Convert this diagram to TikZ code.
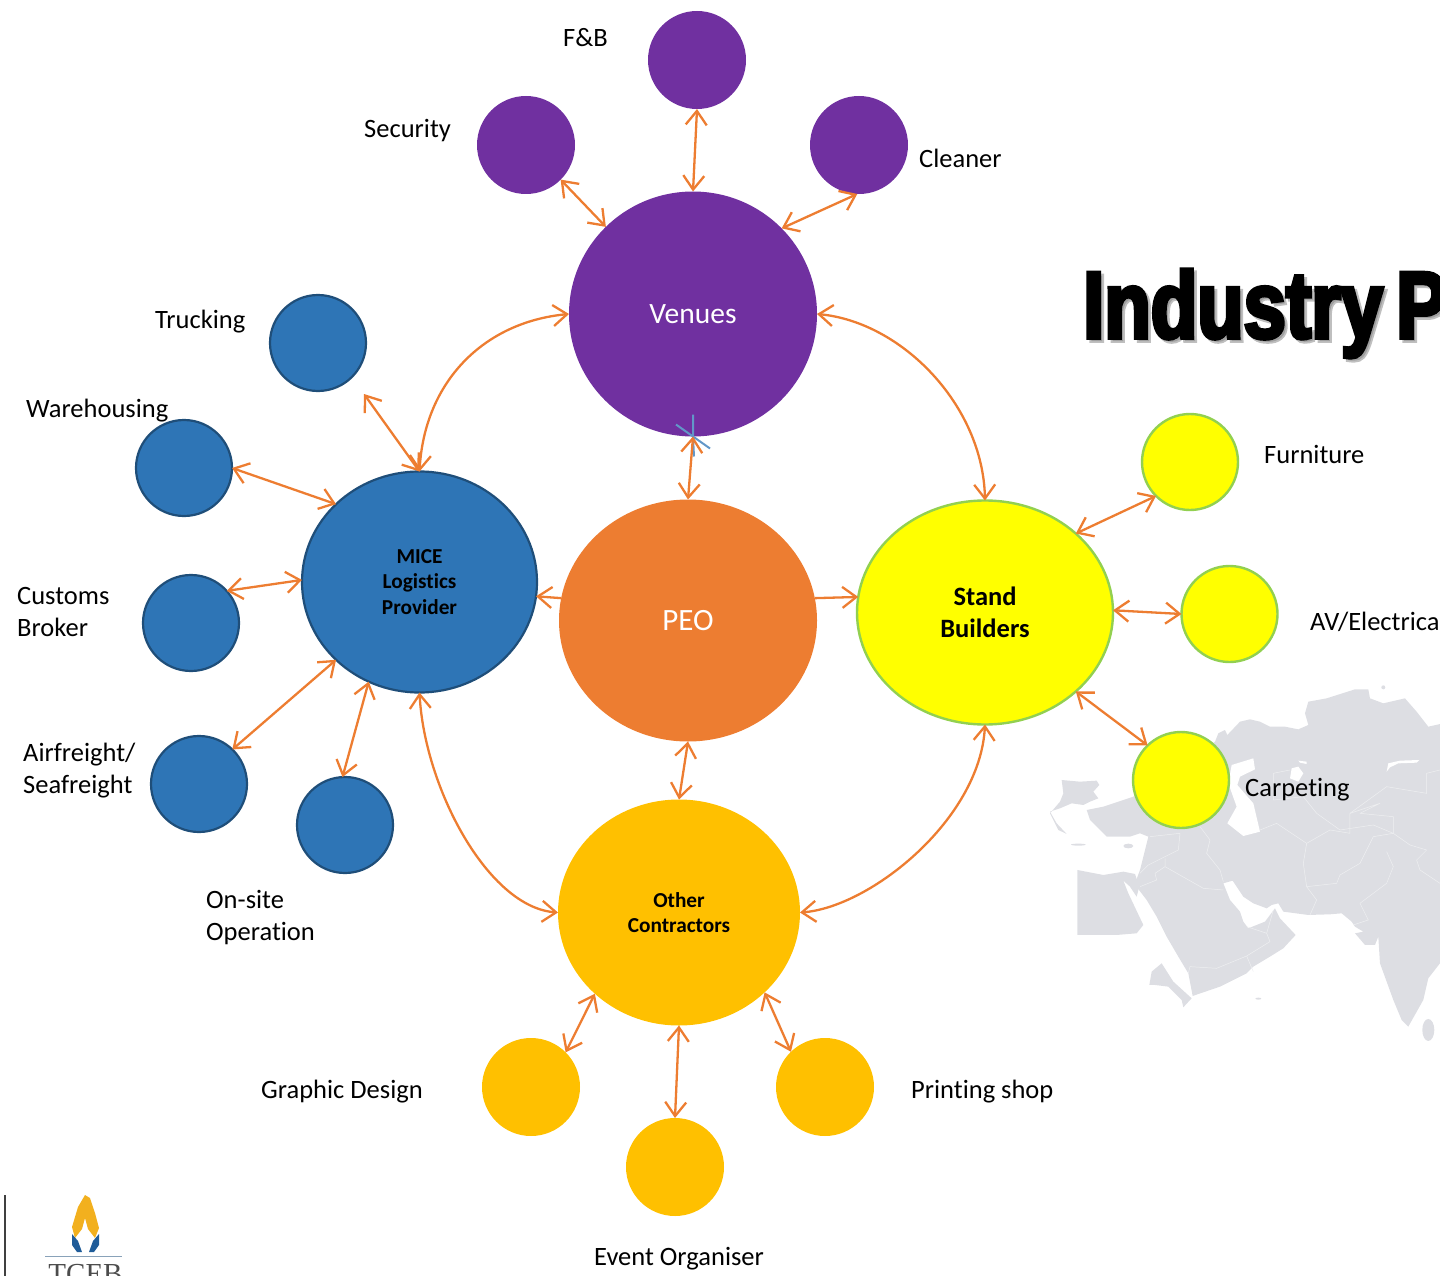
\documentclass[tikz,border=0pt]{standalone}
\usepackage{fontspec}
\setmainfont{Carlito}[Ligatures=NoCommon]
\newfontfamily\titlefont[FakeBold=4,FakeStretch=0.8]{Liberation Sans Bold}
\newfontfamily\logofont{Liberation Serif}
\usetikzlibrary{shapes.geometric,arrows.meta}
\definecolor{arrowc}{HTML}{ED7D31}
\definecolor{purplec}{HTML}{7030A0}
\definecolor{bluec}{HTML}{2E75B6}
\definecolor{blueline}{HTML}{1F4E79}
\definecolor{goldc}{HTML}{FFC000}
\definecolor{yellowc}{RGB}{255,255,0}
\definecolor{greenline}{HTML}{92D050}
\definecolor{mapc}{HTML}{DDDEE3}
\definecolor{mapline}{HTML}{EEEFF1}
\definecolor{logoblue}{HTML}{1F5C99}
\definecolor{logogold}{HTML}{F2B01E}
\tikzset{
  x=1pt,y=-1pt,
  hub/.style={ellipse,inner sep=0pt,outer sep=0pt,align=center},
  sat/.style={circle,inner sep=0pt,outer sep=0pt,minimum size=#1},
  purplenode/.style={fill=purplec},
  bluenode/.style={fill=bluec,draw=blueline,line width=2.2pt},
  yellownode/.style={fill=yellowc,draw=greenline,line width=2.4pt},
  goldnode/.style={fill=goldc},
  lab/.style={inner sep=0pt,align=left,font=\fontsize{26.5}{32}\selectfont,text=black},
  link/.style={draw=arrowc,line width=2.3pt,{Straight Barb[length=14pt,width=21pt,line width=2.3pt]}-{Straight Barb[length=14pt,width=21pt,line width=2.3pt]}},
  onelink/.style={draw=arrowc,line width=2.3pt,-{Straight Barb[length=14pt,width=21pt,line width=2.3pt]}},
  mapborder/.style={draw=mapline,line width=0.5pt,line join=round},
}
\begin{document}
\begin{tikzpicture}
\useasboundingbox (0,0) rectangle (1440,1276);
\clip (0,0) rectangle (1440,1276);
% map
\begin{scope}[shift={(1040,670)},x=0.3333pt,y=-0.3333pt]
\fill[mapc] (525,215)--(535,190)--(555,180)--(562,195)--(600,155)--(630,148)--(660,155)--(690,170)--(735,170)--(775,178)--(805,165)--(795,130)--(805,95)--(860,85)--(945,58)--(985,58)--(990,85)--(1030,100)--(1095,85)--(1130,125)--(1165,170)--(1210,160)--(1210,880)--(1200,880)--(1165,925)--(1150,990)--(1105,1070)--(1085,1050)--(1060,990)--(1020,880)--(1015,800)--(1005,825)--(975,825)--(945,790)--(970,785)--(945,770)--(935,755)--(905,730)--(870,733)--(805,735)--(730,725)--(715,700)--(695,705)--(680,715)--(640,700)--(610,680)--(590,650)--(578,632)--(550,640)--(570,690)--(600,725)--(610,755)--(625,775)--(675,755)--(705,715)--(720,745)--(767,795)--(730,835)--(690,860)--(640,890)--(620,910)--(540,950)--(458,978)--(445,910)--(415,860)--(380,800)--(350,740)--(320,690)--(297,660)--(285,640)--(300,600)--(325,500)--(300,490)--(270,500)--(200,500)--(150,450)--(140,420)--(190,410)--(280,380)--(400,300)--cycle;
\fill[mapc] (112,600)--(190,615)--(250,605)--(285,612)--(298,650)--(290,680)--(270,650)--(250,632)--(265,670)--(310,765)--(290,790)--(230,795)--(112,795)--cycle;
\fill[mapc] (65,330)--(120,335)--(170,332)--(178,345)--(160,365)--(175,385)--(150,395)--(130,405)--(95,400)--(60,415)--(30,425)--(50,460)--(80,492)--(55,480)--(40,450)--(30,430)--(60,395)--(70,370)--cycle;
\fill[mapc] (328,945)--(335,905)--(365,880)--(400,935)--(455,985)--(430,1012)--(425,990)--(385,950)--(345,945)--cycle;
\fill[mapc] (1165,1080) ellipse [x radius=18,y radius=33];
\fill[mapc] (265,528) ellipse [x radius=15,y radius=7];
\fill[mapc] (115,524) ellipse [x radius=22,y radius=3];
\fill[mapc] (655,986) ellipse [x radius=9,y radius=3];
\fill[mapc] (1030,52) circle [radius=6];
% Caspian and lakes
\fill[white] (575,285)--(640,265)--(645,298)--(600,320)--(592,345)--(640,400)--(660,485)--(610,498)--(562,460)--(590,410)--(565,340)--cycle;
\fill[white] (755,295)--(775,290)--(790,310)--(775,335)--(750,325)--cycle;
\fill[white] (1040,305)--(1045,280)--(1080,272)--(1138,270)--(1130,278)--(1075,280)--(1050,292)--cycle;
\fill[white] (775,272)--(800,275)--(800,282)--(780,278)--cycle;
\draw[mapborder] (700,310)--(750,300) (700,310)--(700,390)--(790,380)--(830,430)--(900,480)--(1000,465)--(1060,490)--(1110,525)--(1160,540)--(1130,570)--(1140,600)--(1200,640);
\draw[mapborder] (660,480)--(710,460)--(800,520)--(790,580)--(800,650)--(830,690)--(810,735);
\draw[mapborder] (800,650)--(890,640)--(900,615)--(960,580)--(990,520)--(1000,500)--(1060,490);
\draw[mapborder] (1040,545)--(1060,590)--(1040,640)--(960,700)--(985,750)--(940,765);
\draw[mapborder] (800,520)--(870,480)--(930,490)--(930,430)--(1040,350)--(1160,370)--(1160,310)--(1200,300);
\draw[mapborder] (930,430)--(1020,400)--(960,430)--(1060,440)--(1060,490);
\draw[mapborder] (480,470)--(510,510)--(500,550)--(540,600)--(550,635);
\draw[mapborder] (330,500)--(420,490)--(415,540)--(325,585)--(300,610);
\draw[mapborder] (375,565)--(375,590)--(345,610)--(350,630)--(300,650);
\draw[mapborder] (375,590)--(490,655)--(550,660);
\draw[mapborder] (680,790)--(690,815)--(620,858)--(530,895)--(450,890)--(445,910);
\draw[mapborder] (620,858)--(640,905);
\draw[mapborder] (680,790)--(620,770);
\draw[mapborder] (680,790)--(700,720);
\end{scope}
% logo
\draw[draw=black!75,line width=1.5pt] (5,1195) -- (5,1276);
\fill[logogold] (85,1195)--(90,1198)--(95,1213)--(99,1228)--(95,1238)--(88,1229)--(85,1218)--(82,1229)--(75,1238)--(72,1227)--(78,1207)--cycle;
\fill[logoblue] (72,1234)--(78,1241)--(82,1252)--(77,1252)--(72,1245)--cycle;
\fill[logoblue] (99,1234)--(93,1241)--(89,1252)--(94,1252)--(99,1245)--cycle;
\draw[bluec!50!gray!70,line width=1pt] (45,1256)--(122,1256);
\node[inner sep=0pt,anchor=base,font=\logofont\fontsize{29}{29}\selectfont,text=black!70] (logotext) at (85.5,1283) {TCEB};
% title
\node[inner sep=0pt,anchor=base west,font=\titlefont\fontsize{95}{95}\selectfont,text=black!50,opacity=0.5] (titleshadow) at (1086,341) {Industry\hspace{-8pt} P};
\node[inner sep=0pt,anchor=base west,font=\titlefont\fontsize{95}{95}\selectfont,text=black] (title) at (1083,338) {Industry\hspace{-8pt} P};
% hubs
\node[hub,purplenode,minimum width=248pt,minimum height=245pt,text=white,font=\fontsize{29.5}{34}\selectfont] (ven) at (693,314) {Venues};
\node[hub,bluenode,minimum width=235pt,minimum height=221pt,font=\bfseries\fontsize{21.3}{25.5}\selectfont] (mice) at (419.5,582) {MICE\\Logistics\\Provider};
\node[hub,fill=arrowc,minimum width=258pt,minimum height=242pt,text=white,font=\fontsize{31}{36}\selectfont] (peo) at (688,620.5) {PEO};
\node[hub,yellownode,minimum width=256pt,minimum height=224pt,font=\bfseries\fontsize{26.5}{31.5}\selectfont] (stand) at (985,612.5) {Stand\\Builders};
\node[hub,goldnode,minimum width=242pt,minimum height=226pt,font=\bfseries\fontsize{21.3}{25}\selectfont] (oth) at (679,912.5) {Other\\Contractors};
% satellites
\node[sat=98pt,purplenode] (fb) at (697,60) {};
\node[sat=98pt,purplenode] (sec) at (526,145) {};
\node[sat=98pt,purplenode] (cl) at (859,145) {};
\node[sat=96pt,bluenode] (tr) at (318,343) {};
\node[sat=96pt,bluenode] (wh) at (184,468) {};
\node[sat=96pt,bluenode] (cu) at (191,623) {};
\node[sat=96pt,bluenode] (air) at (199,784) {};
\node[sat=96pt,bluenode] (on) at (345,825) {};
\node[sat=96pt,yellownode] (fu) at (1190,462) {};
\node[sat=96pt,yellownode] (av) at (1229.5,614) {};
\node[sat=96pt,yellownode] (ca) at (1181,780) {};
\node[sat=98pt,goldnode] (gr) at (531,1087) {};
\node[sat=98pt,goldnode] (pr) at (825,1087) {};
\node[sat=98pt,goldnode] (ev) at (675,1167) {};
% labels
\node[lab,anchor=base west] (lfb) at (563,47) {F\&B};
\node[lab,anchor=base west] (lsec) at (364,138) {Security};
\node[lab,anchor=base west] (lcl) at (919,168) {Cleaner};
\node[lab,anchor=base west] (ltr) at (155,328) {Trucking};
\node[lab,anchor=base west] (lwh) at (26,417) {Warehousing};
\node[lab,anchor=west] (lcu) at (17,612) {Customs\\Broker};
\node[lab,anchor=west] (lair) at (23,771) {Airfreight/\\Seafreight};
\node[lab,anchor=west] (lon) at (206,918) {On-site\\Operation};
\node[lab,anchor=base west] (lgr) at (261,1098) {Graphic Design};
\node[lab,anchor=base west] (lpr) at (911,1098) {Printing shop};
\node[lab,anchor=base west] (lev) at (594,1265) {Event Organiser};
\node[lab,anchor=base west] (lfu) at (1264,463) {Furniture};
\node[lab,anchor=base west] (lav) at (1310,630) {AV/Electrica};
\node[lab,anchor=base west] (lca) at (1245,796) {Carpeting};
% blue mark
\coordinate (mark) at (ven.-90);
\coordinate (m1) at ([shift={(0,-22)}]mark);
\coordinate (m2) at ([shift={(-17,-12)}]mark);
\coordinate (m3) at ([shift={(17,12)}]mark);
\coordinate (m4) at ([shift={(1,20)}]mark);
\draw[draw=bluec!75,line width=2pt] (mark)--(m1) (mark)--(m2) (mark)--(m3) (mark)--(m4);
% connectors
\coordinate (trend) at (364,394);
\draw[link] (fb.-90) -- (ven.90);
\draw[link] (sec.-45) -- (ven.135);
\draw[link] (cl.-92) -- (ven.44);
\draw[link] (ven.-90) -- (peo.90);
\draw[link] (trend) -- (mice.90);
\draw[link] (wh.0) -- (mice.137.3);
\draw[link] (cu.42.5) -- (mice.179);
\draw[link] (air.46) -- (mice.223);
\draw[link] (on.93.5) -- (mice.243.7);
\draw[onelink] (peo.170) -- (mice.-7);
\draw[onelink] (peo.10) -- (stand.173.4);
\draw[link] (peo.-90) -- (oth.90);
\draw[link] (stand.41) -- (fu.225);
\draw[link] (stand.1) -- (av.180);
\draw[link] (stand.-41) -- (ca.134);
\draw[link] (oth.224) -- (gr.45);
\draw[link] (oth.-43.6) -- (pr.134);
\draw[link] (oth.-90) -- (ev.90);
\draw[link] (ven.180) .. controls +(-85,8) and +(5,-90) .. (mice.90);
\draw[link] (ven.0) .. controls +(85,8) and +(-2,-95) .. (stand.90);
\draw[link] (mice.-90) .. controls +(5,95) and +(-70,-5) .. (oth.180);
\draw[link] (stand.-90) .. controls +(-5,95) and +(70,-5) .. (oth.0);
\end{tikzpicture}
\end{document}
